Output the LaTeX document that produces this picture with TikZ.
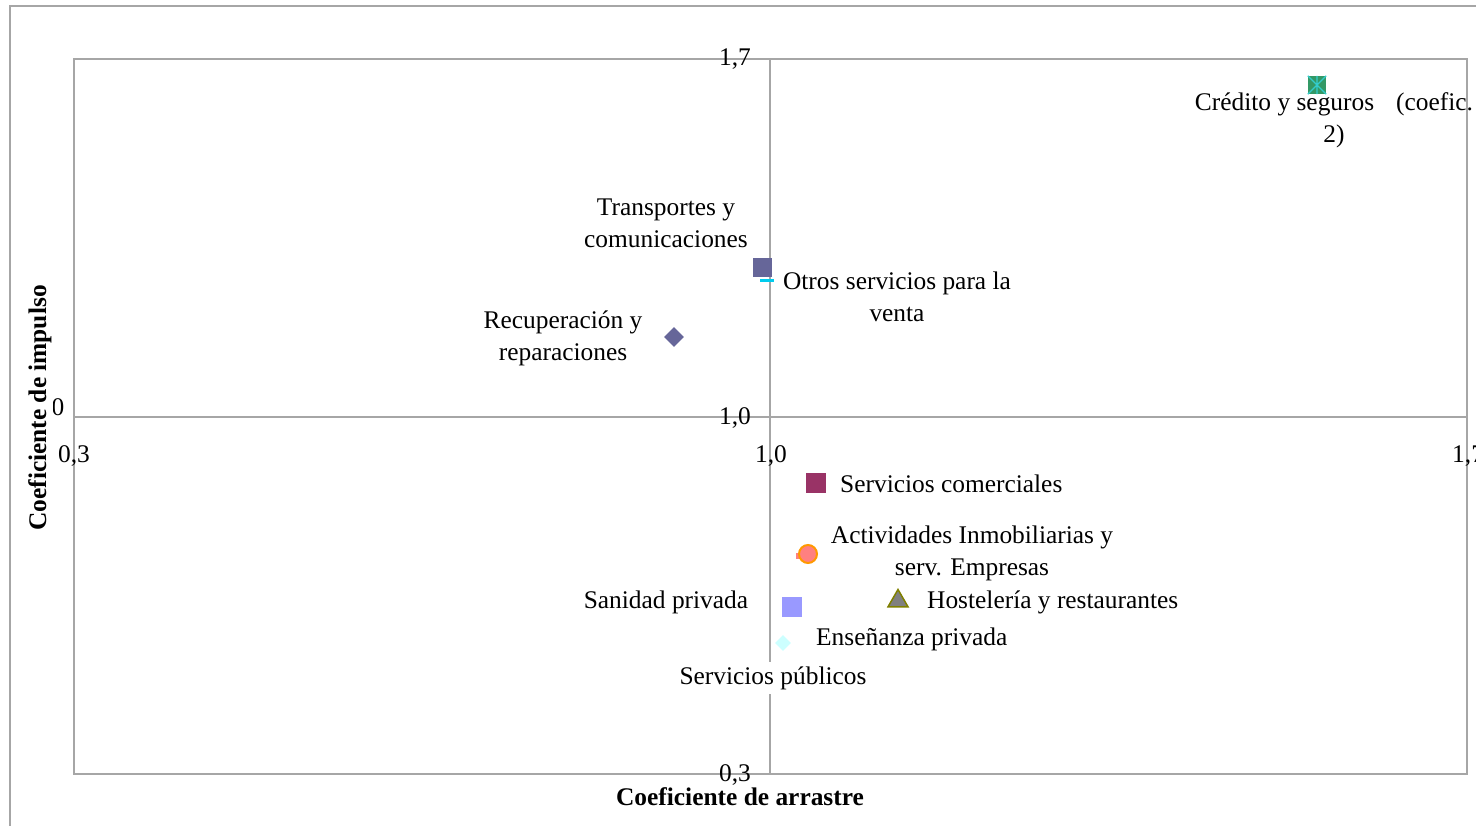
\documentclass[tikz,border=0pt]{standalone}
\usepackage{fontspec}
\setmainfont{Liberation Serif}
\usetikzlibrary{shapes.geometric}
\definecolor{gridgray}{HTML}{A6A6A6}
\definecolor{slate}{HTML}{666699}
\definecolor{plum}{HTML}{993366}
\definecolor{lav}{HTML}{9999FF}
\definecolor{salmon}{HTML}{FF8080}
\definecolor{orng}{HTML}{FF9900}
\definecolor{olive}{HTML}{808000}
\definecolor{midgray}{HTML}{808080}
\definecolor{lcyan}{HTML}{CCFFFF}
\definecolor{skycyan}{HTML}{00CCEE}
\definecolor{seagreen}{HTML}{339966}
\definecolor{teal}{HTML}{33CCCC}
\tikzset{
  frameline/.style={draw=gridgray, line width=1.5pt},
  lbl/.style={inner sep=0pt, align=center, text=black, font=\fontsize{25.4}{32}\selectfont},
  ttl/.style={inner sep=1pt, fill=white, text=black, font=\fontsize{25.4}{32}\selectfont\bfseries},
  sqmark/.style={rectangle, inner sep=0pt, minimum size=#1},
  dmmark/.style={diamond, inner sep=0pt, minimum size=#1},
}
\begin{document}
\begin{tikzpicture}[x=1pt, y=-1pt]
\useasboundingbox (0,0) rectangle (1476,826);
% outer frame
\draw[frameline] (10,826) -- (10,6) -- (1476,6);
% plot frame and axes
\draw[frameline] (74,59) rectangle (1467,774);
\draw[frameline] (770,59) -- (770,774);
\draw[frameline] (74,417) -- (1467,417);
% tick labels
\node[lbl] (y17) at (735,59) {1,7};
\node[lbl] (y10) at (735,418) {1,0};
\node[lbl] (y03) at (735,775) {0,3};
\node[lbl] (x03) at (74,456) {0,3};
\node[lbl] (x10) at (771,456) {1,0};
\node[lbl, anchor=west] (x17) at (1452,456) {1,7};
\node[lbl] (stray) at (58,407) {0};
% axis titles
\node[ttl, rotate=90] (ytitle) at (40,408) {Coeficiente de impulso};
\node[ttl] (xtitle) at (740,797) {Coeficiente de arrastre};
% markers
\node[sqmark=18pt, fill=seagreen] (mcred) at (1317,85) {};
\draw[teal, line width=1.2pt] (mcred.north west) -- (mcred.south east)
  (mcred.north east) -- (mcred.south west) (mcred.north) -- (mcred.south);
\node[sqmark=19pt, fill=slate] (mtrans) at (762,268) {};
\node[rectangle, inner sep=0pt, minimum width=14pt, minimum height=3pt, fill=skycyan] (motros) at (767,281) {};
\node[dmmark=20pt, fill=slate] (mrecup) at (674,337) {};
\node[sqmark=20pt, fill=plum] (mcomerc) at (816,483) {};
\node[rectangle, inner sep=0pt, minimum width=7pt, minimum height=6pt, fill=salmon] (mactivtail) at (799,555.5) {};
\node[circle, inner sep=0pt, minimum size=18pt, fill=salmon, draw=orng, line width=2pt] (mactiv) at (808,554) {};
\node[regular polygon, regular polygon sides=3, inner sep=0pt, minimum size=23pt, fill=midgray, draw=olive, line width=1.5pt] (mhost) at (898,601) {};
\node[sqmark=20pt, fill=lav] (msanid) at (792,607) {};
\node[dmmark=16pt, fill=lcyan] (mensen) at (783,643) {};
% labels
\node[lbl] (lcred) at (1334,120) {Crédito y seguros\hspace{22pt}(coefic.\\2)};
\node[lbl] (ltrans) at (666,223) {Transportes y\\comunicaciones};
\node[lbl] (lotros) at (897,297) {Otros servicios para la\\venta};
\node[lbl] (lrecup) at (563,338) {Recuperación y\\reparaciones};
\node[lbl, anchor=west] (lcomerc) at (840,484) {Servicios comerciales};
\node[lbl] (lactiv) at (972,553) {Actividades Inmobiliarias y\\serv. Empresas};
\node[lbl, anchor=west] (lhost) at (927,602) {Hostelería y restaurantes};
\node[lbl] (lsanid) at (666,602) {Sanidad privada};
\node[lbl, anchor=west] (lensen) at (816,639) {Enseñanza privada};
\node[lbl, fill=white, inner sep=4pt] (lpubl) at (773,678) {Servicios públicos};
\end{tikzpicture}
\end{document}
